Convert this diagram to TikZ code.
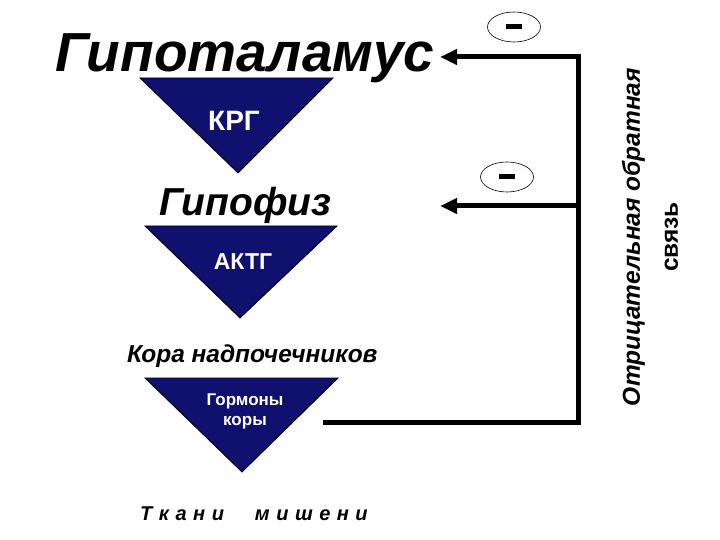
\documentclass[tikz,border=0pt]{standalone}
\usepackage{fontspec}
\setmainfont{Liberation Sans}
\usetikzlibrary{arrows.meta,shapes.geometric}
\definecolor{navyFill}{RGB}{16,16,110}

\begin{document}
\begin{tikzpicture}[x=1pt,y=-1pt]
  % Styling
  \tikzset{
    organ/.style={
      font=\fontsize{#1}{#1}\selectfont\bfseries\itshape,
      black,
      inner sep=0pt,
      anchor=base west
    },
    gland/.style={
      fill=navyFill,
      draw=black,
      line width=0.8pt,
      line join=miter
    },
    hormone/.style={
      font=\fontsize{#1}{#1}\selectfont\bfseries,
      white,
      inner sep=0pt,
      align=center
    },
    feedback/.style={
      line width=5pt,
      black
    },
    arrow/.style={
      -{Triangle[length=17pt,width=15pt]},
      line width=5pt,
      black
    },
    minus/.style={
      ellipse,
      draw=black,
      line width=0.6pt,
      minimum width=53pt,
      minimum height=30pt,
      inner sep=0pt
    }
  }
  \useasboundingbox (0,0) rectangle (720,540);

  % ===== Hypothalamus =====
  \node[organ=55] (hypo) at (55,72) {Гипоталамус};
  \draw[gland] (140,78) -- (333,78) -- (238,173) -- cycle;
  \node[hormone=28] (krg) at (234,121) {КРГ};

  % ===== Pituitary =====
  \node[organ=39] (pit) at (159,215) {Гипофиз};
  \draw[gland] (145,226) -- (337,226) -- (240,318) -- cycle;
  \node[hormone=23] (actg) at (243,262) {АКТГ};

  % ===== Adrenal cortex =====
  \node[organ=24.5] (adr) at (127,362) {Кора надпочечников};
  \draw[gland] (145,378) -- (338,378) -- (242,472) -- cycle;
  \node[hormone=17] (cort) at (245,411) {Гормоны\\[3pt]коры};

  % Target tissue
  \node[organ=20] (target) at (140,520)
    {Т\hspace{6.5pt}к\hspace{6.5pt}а\hspace{6.5pt}н\hspace{6.5pt}и\hspace{31pt}м\hspace{6.5pt}и\hspace{6.5pt}ш\hspace{6.5pt}е\hspace{6.5pt}н\hspace{6.5pt}и};

  % ===== Feedback loop =====
  \coordinate (fbStart) at (325,422);
  \coordinate (fbBot) at (578,422);
  \coordinate (fbMid) at (578,206);
  \coordinate (fbTop) at (578,57);
  \coordinate (tipTop) at (440,57);
  \coordinate (tipMid) at (440,206);

  \draw[feedback, line cap=rect] (fbStart) -- (fbBot) -- (fbTop);
  \draw[arrow] (fbTop) -- (tipTop);
  \draw[arrow] (fbMid) -- (tipMid);

  % Minus signs
  \node[minus] (minusTop) at (514,27) {};
  \fill (minusTop.center) +(-8,-2.5) rectangle +(8,2.5);
  \node[minus] (minusMid) at (507,177) {};
  \fill (minusMid.center) +(-8,-2.5) rectangle +(8,2.5);

  % Label
  \node[rotate=90, align=center, inner sep=0pt,
        font=\fontsize{24.5}{38}\selectfont\bfseries] (fbLabel) at (650,237)
        {\itshape Отрицательная обратная\\связь};
\end{tikzpicture}
\end{document}
